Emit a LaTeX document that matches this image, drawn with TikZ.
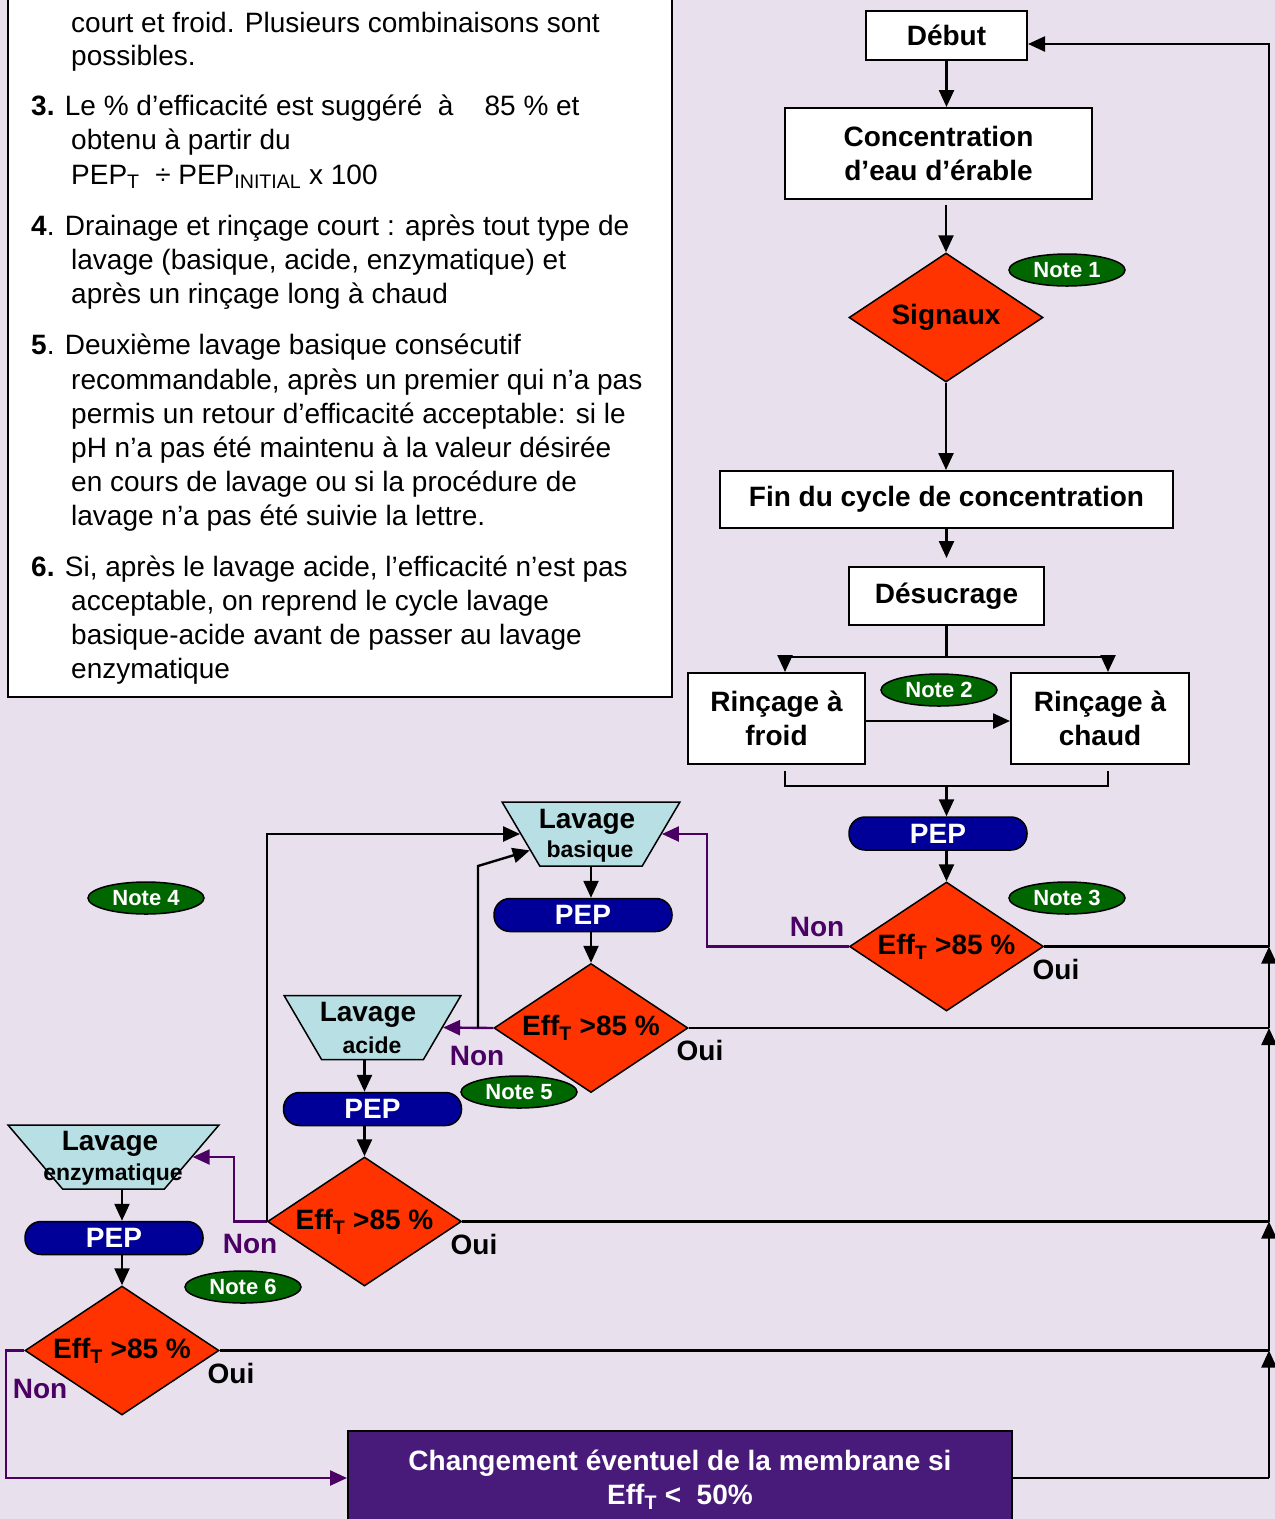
\documentclass[tikz,border=0pt]{standalone}
\usepackage{fontspec}
\setmainfont{Liberation Sans}
\usetikzlibrary{arrows.meta,shapes.geometric,calc}
\definecolor{bg}{RGB}{232,225,237}
\definecolor{dred}{RGB}{255,51,0}
\definecolor{ngreen}{RGB}{0,102,0}
\definecolor{pblue}{RGB}{0,0,153}
\definecolor{tcyan}{RGB}{184,224,228}
\definecolor{npurple}{RGB}{75,0,100}
\definecolor{mbox}{RGB}{72,26,122}
\tikzset{
  procbox/.style={draw, fill=white, line width=2pt, align=center, inner sep=0pt,
    font=\bfseries\fontsize{28}{34}\selectfont},
  decis/.style={diamond, draw, fill=dred, line width=1.5pt, aspect=1.5,
    minimum width=194pt, minimum height=129pt, inner sep=0pt,
    font=\bfseries\fontsize{28}{30}\selectfont},
  notebox/.style={ellipse, draw, fill=ngreen, line width=1.5pt, minimum width=116pt,
    minimum height=32pt, inner sep=0pt, text=white, font=\bfseries\fontsize{22}{24}\selectfont},
  pepbox/.style={rectangle, rounded corners=16pt, draw, fill=pblue, line width=1.5pt,
    minimum width=178pt, minimum height=33pt, inner sep=0pt, text=white,
    font=\bfseries\fontsize{28}{30}\selectfont},
  washbox/.style={trapezium, shape border rotate=180, trapezium stretches=true, draw,
    fill=tcyan, line width=1.5pt, minimum height=64pt, inner sep=0pt},
  washbig/.style={inner sep=0pt, font=\bfseries\fontsize{28}{30}\selectfont},
  washsmall/.style={inner sep=0pt, font=\bfseries\fontsize{23}{26}\selectfont},
  arr/.style={line width=2.4pt, -{Triangle[length=17pt,width=15pt]}},
  nonarr/.style={arr, draw=npurple},
  plain/.style={line width=2.4pt},
  lbl/.style={inner sep=0pt, font=\bfseries\fontsize{28}{30}\selectfont},
  txt/.style={anchor=base west, inner sep=0pt, font=\fontsize{28}{34}\selectfont},
}
\begin{document}
\begin{tikzpicture}[x=1pt,y=-1pt]
\useasboundingbox (0,0) rectangle (1275,1519);
\clip (0,0) rectangle (1275,1519);
\fill[bg] (0,0) rectangle (1275,1519);

% ---------- notes text box ----------
\draw[line width=2pt, fill=white] (8,-20) rectangle (672,697);
\node[txt] (t1) at (71,32) {court et froid. Plusieurs combinaisons sont};
\node[txt] (t2) at (71,65) {possibles.};
\node[txt] (t3) at (31,115) {\textbf{3.} Le \% d’efficacité est suggéré \ à \ \ \ 85 \% et};
\node[txt] (t4) at (71,149) {obtenu à partir du};
\node[txt] (t5) at (71,184) {PEP\textsubscript{T} \ ÷ PEP\textsubscript{INITIAL} x 100};
\node[txt] (t6) at (31,235) {\textbf{4}. Drainage et rinçage court : après tout type de};
\node[txt] (t7) at (71,269) {lavage (basique, acide, enzymatique) et};
\node[txt] (t8) at (71,303) {après un rinçage long à chaud};
\node[txt] (t9) at (31,354) {\textbf{5}. Deuxième lavage basique consécutif};
\node[txt] (t10) at (71,389) {recommandable, après un premier qui n’a pas};
\node[txt] (t11) at (71,423) {permis un retour d’efficacité acceptable: si le};
\node[txt] (t12) at (71,457) {pH n’a pas été maintenu à la valeur désirée};
\node[txt] (t13) at (71,491) {en cours de lavage ou si la procédure de};
\node[txt] (t14) at (71,525) {lavage n’a pas été suivie la lettre.};
\node[txt] (t15) at (31,576) {\textbf{6.} Si, après le lavage acide, l’efficacité n’est pas};
\node[txt] (t16) at (71,610) {acceptable, on reprend le cycle lavage};
\node[txt] (t17) at (71,644) {basique-acide avant de passer au lavage};
\node[txt] (t18) at (71,678) {enzymatique};

% ---------- main column ----------
\node[procbox, minimum width=161pt, minimum height=49pt] (debut) at (946.5,35.5) {Début};
\node[procbox, minimum width=307pt, minimum height=91pt] (conc) at (938.5,153.5) {Concentration\\d’eau d’érable};
\node[decis] (sig) at (946,317.5) {\raisebox{-4pt}{Signaux}};
\node[notebox] (n1) at (1067,270) {Note 1};
\node[procbox, minimum width=453pt, minimum height=57pt] (fin) at (946.5,499.5) {\raisebox{-2pt}{Fin du cycle de concentration}};
\node[procbox, minimum width=195pt, minimum height=58pt] (des) at (946.5,596) {Désucrage};
\node[procbox, minimum width=177pt, minimum height=91pt] (rf) at (776.5,718.5) {Rinçage à\\froid};
\node[procbox, minimum width=178pt, minimum height=91pt] (rc) at (1100,718.5) {Rinçage à\\chaud};
\node[notebox] (n2) at (939,690) {Note 2};
\node[pepbox] (pep1) at (938,833.5) {PEP};
\node[decis] (d1) at (946.5,946.5) {Eff\textsubscript{T} >85 \%};
\node[notebox] (n3) at (1067,898) {Note 3};
\node[lbl, text=npurple] (non1) at (817,927) {Non};
\node[lbl] (oui1) at (1056,969) {Oui};

% ---------- basic wash ----------
\node[washbox, minimum width=178pt, trapezium left angle=66, trapezium right angle=66] (lb) at (591,834) {\phantom{M}};
\node[washbig] (lbt1) at (587,822) {Lavage};
\node[washsmall] (lbt2) at (590,852) {basique};
\node[pepbox] (pep2) at (583,915) {PEP};
\node[decis] (d2) at (591,1028) {Eff\textsubscript{T} >85 \%};
\node[lbl, text=npurple] (non2) at (477,1056) {Non};
\node[lbl] (oui2) at (700,1050) {Oui};
\node[notebox] (n4) at (146,898) {Note 4};

% ---------- acid wash ----------
\node[washbox, minimum width=177pt, trapezium left angle=66, trapezium right angle=66] (la) at (372.5,1027.5) {\phantom{M}};
\node[washbig] (lat1) at (368,1015) {Lavage};
\node[washsmall] (lat2) at (372,1045) {acide};
\node[pepbox] (pep3) at (372.5,1109) {PEP};
\node[notebox] (n5) at (519,1092) {Note 5};
\node[decis] (d3) at (364.5,1221.5) {Eff\textsubscript{T} >85 \%};
\node[lbl, text=npurple] (non3) at (250,1244) {Non};
\node[lbl] (oui3) at (474,1244) {Oui};

% ---------- enzymatic wash ----------
\node[washbox, minimum width=211pt, trapezium left angle=57, trapezium right angle=57] (le) at (113.5,1157) {\phantom{M}};
\node[washbig] (let1) at (110,1144) {Lavage};
\node[washsmall] (let2) at (113,1175) {enzymatique};
\node[pepbox] (pep4) at (114,1238) {PEP};
\node[notebox] (n6) at (243,1287) {Note 6};
\node[decis] (d4) at (122,1350.5) {Eff\textsubscript{T} >85 \%};
\node[lbl, text=npurple] (non4) at (40,1389) {Non};
\node[lbl] (oui4) at (231,1373) {Oui};

% ---------- membrane box ----------
\node[draw, line width=2pt, fill=mbox, minimum width=664pt, minimum height=94pt, inner sep=0pt] (chg) at (680,1478) {};
\node[inner sep=0pt, align=center, text=white, font=\bfseries\fontsize{28}{34}\selectfont] (chgt) at (680,1480)
  {Changement éventuel de la membrane si\\Eff\textsubscript{T} < \ 50\%};

% ---------- coordinates ----------
\coordinate (rail) at (1269,0);
\coordinate (rtop) at (1269,44);
\coordinate (j1) at (d1.east -| rail);
\coordinate (j2) at (d2.east -| rail);
\coordinate (j3) at (d3.east -| rail);
\coordinate (j4) at (d4.east -| rail);
\coordinate (j5) at (chg.east -| rail);
\coordinate (sl) at (785,657);
\coordinate (sr) at (1108,657);
\coordinate (bl) at (785,786);
\coordinate (br) at (1108,786);
\coordinate (k2) at (478,1028);
\coordinate (k2b) at (478,866);

% ---------- connectors: main column ----------
\draw[arr] (debut.south) -- (debut.south |- conc.north);
\draw[arr] ($(conc.south -| sig.north)+(0,5)$) -- (sig.north);
\draw[arr] (sig.south) -- (sig.south |- fin.north);
\draw[arr] (fin.south) -- ($(des.north)+(0,-8)$);
\draw[plain] (des.south) -- (des.south |- sl);
\draw[plain] (sl) -- (sr);
\draw[arr] (sl) -- (sl |- rf.north);
\draw[arr] (sr) -- (sr |- rc.north);
\draw[arr] (rf.east |- 0,721) -- (rc.west |- 0,721);
\draw[plain] ($(rf.south -| bl)+(0,6)$) -- (bl) -- (br) -- ($(rc.south -| br)+(0,6)$);
\draw[arr] (d1.north |- bl) -- (d1.north |- pep1.north);
\draw[arr] (d1.north |- pep1.south) -- (d1.north);
\draw[nonarr] (d1.west) -- ++(-142,0) |- (lb.east);
\draw[plain] (d1.east) -- (j1);

% ---------- connectors: basic ----------
\draw[arr] (lb.south -| d2.north) -- (d2.north |- pep2.north);
\draw[arr] (d2.north |- pep2.south) -- (d2.north);
\draw[nonarr] (d2.west) -- (la.east);
\draw[arr] (k2) -- (k2b) -- (lb.195);
\draw[plain] (d2.east) -- (j2);

% ---------- connectors: acid ----------
\draw[arr] (la.south -| d3.north) -- (d3.north |- pep3.north);
\draw[arr] (d3.north |- pep3.south) -- (d3.north);
\draw[nonarr] (d3.west) -- ++(-33,0) |- (le.east);
\draw[arr] (d3.west) |- (lb.west);
\draw[plain] (d3.east) -- (j3);

% ---------- connectors: enzymatic ----------
\draw[arr] (le.south -| d4.north) -- (d4.north |- pep4.north);
\draw[arr] (d4.north |- pep4.south) -- (d4.north);
\draw[nonarr] (d4.west) -- ++(-18,0) |- (chg.west);
\draw[plain] (d4.east) -- (j4);
\draw[plain] (chg.east) -- (j5);

% ---------- right rail ----------
\draw[arr] (j5) -- (j4);
\draw[arr] (j4) -- (j3);
\draw[arr] (j3) -- (j2);
\draw[arr] (j2) -- (j1);
\draw[arr] (j1) -- (rtop) -- (rtop -| debut.east);
\end{tikzpicture}
\end{document}
